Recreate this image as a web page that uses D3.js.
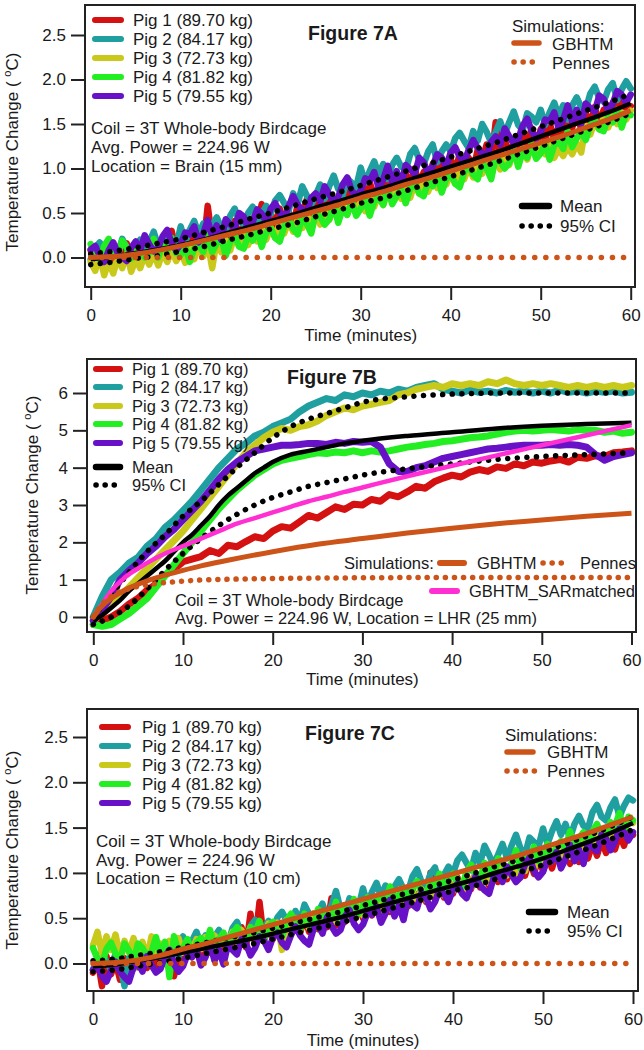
<!DOCTYPE html>
<html><head><meta charset="utf-8">
<script src="https://cdn.jsdelivr.net/npm/d3@7"></script>
<style>
body{margin:0;background:#fff}
svg{display:block}
text{font-family:"Liberation Sans",Arial,Helvetica,sans-serif;fill:#1a1a1a}
</style>
</head><body>
<svg id="chart" width="644" height="1050"></svg>
<script>
// ---------------- DATA ----------------
const pigNames = ["Pig 1 (89.70 kg)", "Pig 2 (84.17 kg)", "Pig 3 (72.73 kg)", "Pig 4 (81.82 kg)", "Pig 5 (79.55 kg)"];
const pigColors = ["#d41010", "#1f9f9f", "#c9c91c", "#22ee22", "#6812c8"];
const xTicks = [0, 10, 20, 30, 40, 50, 60];
const yTicksSmall = [0, 0.5, 1.0, 1.5, 2.0, 2.5];
const yTicksLHR = [0, 1, 2, 3, 4, 5, 6];

// Brain / Rectum pig traces: one value every 0.5 min from 0 to 60 min
const pigStepMin = 0.5;
const brainPig1 = [0.08,-0.06,0.12,-0.08,0.06,-0.10,0.12,0.00,0.16,-0.04,
0.13,-0.01,0.18,-0.01,0.13,-0.02,0.19,0.08,0.30,0.05,
0.22,0.09,0.28,0.09,0.23,0.09,0.58,0.20,0.37,0.18,
0.35,0.22,0.41,0.22,0.37,0.22,0.44,0.34,0.60,0.32,
0.49,0.37,0.55,0.37,0.51,0.37,0.59,0.49,0.65,0.47,
0.64,0.52,0.70,0.52,0.66,0.52,0.74,0.64,0.80,0.62,
0.79,0.67,0.85,0.67,0.81,0.67,0.89,0.79,0.95,0.77,
0.94,0.82,1.00,0.82,0.96,0.82,1.05,0.94,1.11,0.92,
1.10,0.98,1.16,0.98,1.12,0.98,1.21,1.10,1.27,1.08,
1.52,1.14,1.33,1.15,1.29,1.15,1.38,1.28,1.45,1.26,
1.44,1.32,1.51,1.33,1.47,1.33,1.56,1.46,1.63,1.44,
1.62,1.50,1.69,1.51,1.66,1.52,1.74,1.64,1.81,1.63,
1.70];
const brainPig2 = [-0.02,0.11,0.17,0.06,-0.02,0.15,0.03,0.21,0.11,-0.02,
0.09,0.20,0.04,0.17,0.29,0.13,0.05,0.23,0.18,0.12,
0.35,0.17,0.31,0.41,0.26,0.38,0.21,0.36,0.45,0.34,
0.30,0.47,0.55,0.41,0.37,0.50,0.57,0.38,0.49,0.58,
0.49,0.64,0.70,0.61,0.53,0.72,0.60,0.80,0.70,0.59,
0.70,0.82,0.66,0.80,0.92,0.77,0.70,0.89,0.84,0.79,
1.01,0.84,0.97,1.08,0.93,1.05,0.88,1.04,1.12,1.02,
0.98,1.16,1.23,1.10,1.05,1.19,1.27,1.07,1.19,1.27,
1.19,1.34,1.40,1.31,1.23,1.42,1.31,1.50,1.41,1.29,
1.41,1.53,1.38,1.52,1.64,1.49,1.43,1.62,1.58,1.52,
1.66,1.49,1.63,1.74,1.59,1.71,1.55,1.71,1.80,1.69,
1.66,1.84,1.92,1.79,1.75,1.89,1.96,1.77,1.89,1.98,
1.90];
const brainPig3 = [-0.05,-0.15,0.02,-0.20,-0.04,-0.18,0.00,-0.12,0.04,-0.16,
-0.02,-0.12,0.03,-0.08,0.05,-0.09,0.06,-0.05,0.08,-0.04,
0.07,-0.06,0.12,-0.02,0.13,0.01,0.16,-0.12,0.19,0.06,
0.20,0.08,0.25,0.13,0.27,0.14,0.30,0.18,0.33,0.20,
0.34,0.22,0.39,0.27,0.41,0.29,0.44,0.33,0.48,0.36,
0.49,0.37,0.54,0.42,0.56,0.44,0.59,0.48,0.63,0.51,
0.64,0.52,0.69,0.57,0.71,0.59,0.74,0.63,0.78,0.66,
0.79,0.67,0.84,0.72,0.86,0.74,0.90,0.78,0.94,0.82,
0.95,0.83,1.00,0.88,1.02,0.90,1.06,0.94,1.10,0.98,
1.11,0.99,1.16,1.04,1.18,1.06,1.22,1.10,1.27,1.12,
1.28,1.16,1.30,1.12,1.22,1.14,1.24,1.16,1.28,1.18,
1.48,1.38,1.53,1.44,1.57,1.46,1.60,1.50,1.63,1.55,
1.65];
const brainPig4 = [0.15,0.02,-0.02,0.13,0.21,0.08,0.02,0.19,0.12,-0.01,
0.14,0.09,0.00,0.05,0.21,0.00,0.15,0.07,0.22,0.05,
0.03,0.13,-0.05,0.10,0.15,0.06,0.25,0.06,0.16,0.23,
0.02,0.17,0.25,0.12,0.10,0.25,0.19,0.33,0.12,0.28,
0.33,0.22,0.18,0.35,0.43,0.32,0.26,0.45,0.38,0.27,
0.50,0.46,0.37,0.43,0.59,0.39,0.55,0.48,0.63,0.47,
0.55,0.66,0.47,0.63,0.68,0.59,0.78,0.60,0.69,0.77,
0.61,0.77,0.84,0.72,0.69,0.85,0.80,0.93,0.73,0.88,
0.94,0.83,0.79,0.96,1.04,0.93,0.88,1.06,1.00,0.88,
1.12,1.08,1.00,1.06,1.22,1.02,1.19,1.12,1.28,1.11,
1.17,1.28,1.10,1.26,1.31,1.22,1.42,1.24,1.34,1.41,
1.32,1.48,1.56,1.44,1.42,1.58,1.52,1.66,1.46,1.62,
1.60];
const brainPig5 = [0.09,0.13,0.02,-0.05,0.08,0.17,0.05,0.00,-0.04,0.11,
0.18,0.08,0.25,0.15,0.07,0.11,0.24,0.31,0.16,0.08,
0.15,0.28,0.26,0.35,0.17,0.27,0.42,0.23,0.36,0.20,
0.43,0.37,0.33,0.50,0.46,0.32,0.40,0.54,0.49,0.40,
0.55,0.61,0.50,0.45,0.58,0.69,0.59,0.54,0.50,0.67,
0.72,0.63,0.80,0.71,0.63,0.68,0.82,0.90,0.75,0.68,
0.75,0.89,0.86,0.96,0.78,0.88,1.03,0.85,0.97,0.82,
1.04,0.99,0.94,1.12,1.07,0.94,1.03,1.16,1.12,1.02,
1.18,1.24,1.13,1.08,1.21,1.32,1.23,1.17,1.14,1.30,
1.36,1.27,1.45,1.36,1.28,1.33,1.48,1.56,1.42,1.34,
1.41,1.55,1.53,1.63,1.45,1.55,1.71,1.53,1.66,1.50,
1.73,1.68,1.64,1.82,1.78,1.65,1.73,1.87,1.83,1.74,
1.83];

const rectumPig1 = [-0.10,0.05,-0.25,0.08,-0.12,0.02,-0.18,0.06,-0.08,0.10,
-0.04,0.12,-0.05,0.14,-0.02,0.16,0.00,0.18,-0.14,0.05,
0.06,0.22,0.07,0.25,0.10,0.26,0.12,0.28,0.13,0.30,
0.16,0.34,0.20,0.40,0.18,0.55,0.22,0.68,0.25,0.40,
0.27,0.45,0.30,0.48,0.32,0.50,0.33,0.52,0.35,0.55,
0.38,0.56,0.40,0.72,0.42,0.60,0.46,0.63,0.48,0.65,
0.50,0.68,0.53,0.70,0.55,0.72,0.57,0.75,0.58,0.78,
0.63,0.82,0.66,0.85,0.68,1.00,0.70,0.88,0.73,0.92,
0.77,0.95,0.80,0.98,0.82,1.00,0.84,1.02,0.86,1.04,
0.90,1.08,0.93,1.10,0.95,1.12,0.97,1.15,0.99,1.17,
1.02,1.20,1.05,1.22,1.08,1.25,1.10,1.27,1.12,1.30,
1.16,1.33,1.19,1.36,1.22,1.39,1.26,1.43,1.30,1.46,
1.42];
const rectumPig2 = [-0.07,0.07,0.12,0.02,-0.07,0.11,-0.02,-0.25,0.06,-0.06,
0.05,0.16,0.00,0.13,0.25,0.09,0.02,0.20,0.14,0.08,
0.30,0.12,0.25,0.35,0.20,0.31,0.14,0.29,0.37,0.26,
0.22,0.39,0.46,0.32,0.27,0.41,0.48,0.28,0.39,0.47,
0.37,0.51,0.57,0.48,0.40,0.58,0.46,0.65,0.55,0.44,
0.55,0.66,0.51,0.64,0.80,0.60,0.54,0.72,0.67,0.62,
0.83,0.65,0.79,0.89,0.74,0.86,0.69,0.85,0.93,0.82,
0.79,0.96,1.04,0.90,0.85,0.99,1.06,0.87,0.98,1.07,
0.99,1.14,1.20,1.11,1.03,1.22,1.10,1.30,1.20,1.09,
1.20,1.32,1.16,1.30,1.42,1.27,1.20,1.39,1.34,1.29,
1.49,1.32,1.46,1.57,1.42,1.54,1.38,1.54,1.63,1.52,
1.49,1.67,1.75,1.62,1.58,1.72,1.81,1.62,1.74,1.83,
1.80];
const rectumPig3 = [0.20,0.35,0.10,0.30,0.15,0.32,0.08,0.25,0.12,0.28,
0.10,0.24,0.05,0.30,0.08,0.22,0.10,0.25,0.12,0.28,
0.12,0.25,0.14,0.27,0.16,0.29,0.18,0.31,0.20,0.33,
0.22,0.35,0.24,0.37,0.26,0.40,0.29,0.42,0.30,0.44,
0.32,0.45,0.15,0.48,0.35,0.50,0.37,0.52,0.39,0.55,
0.42,0.56,0.44,0.58,0.46,0.60,0.48,0.62,0.50,0.64,
0.53,0.67,0.55,0.69,0.57,0.72,0.60,0.74,0.62,0.76,
0.66,0.80,0.68,0.82,0.70,0.85,0.73,0.87,0.75,0.90,
0.80,0.94,0.82,0.96,0.84,0.99,0.87,1.01,0.89,1.04,
0.95,1.09,0.97,1.11,0.99,1.14,1.02,1.16,1.04,1.19,
1.10,1.24,1.13,1.27,1.15,1.30,1.18,1.33,1.21,1.36,
1.28,1.42,1.31,1.45,1.35,1.49,1.39,1.53,1.43,1.57,
1.55];
const rectumPig4 = [0.17,0.05,0.00,0.16,0.23,0.11,0.04,0.22,0.14,0.02,
0.22,0.17,0.08,0.13,0.29,0.08,0.24,-0.15,0.30,0.13,
0.17,0.27,0.08,0.23,0.28,0.18,0.37,0.18,0.27,0.34,
0.18,0.33,0.40,0.27,0.24,0.40,0.34,0.47,0.26,0.41,
0.46,0.34,0.30,0.47,0.55,0.43,0.37,0.55,0.48,0.37,
0.60,0.55,0.47,0.52,0.68,0.47,0.64,0.56,0.71,0.55,
0.63,0.73,0.55,0.70,0.75,0.66,0.85,0.67,0.76,0.83,
0.68,0.83,0.91,0.78,0.75,0.91,0.85,0.99,0.78,0.94,
0.99,0.88,0.84,1.01,1.09,0.98,0.92,1.11,1.04,0.93,
1.16,1.12,1.03,1.09,1.25,1.05,1.21,1.14,1.29,1.13,
1.21,1.32,1.14,1.30,1.35,1.26,1.46,1.28,1.38,1.45,
1.30,1.46,1.54,1.42,1.40,1.56,1.52,1.66,1.46,1.62,
1.58];
const rectumPig5 = [-0.07,-0.02,-0.14,-0.20,-0.08,0.02,-0.09,-0.15,-0.20,-0.04,
0.01,-0.09,0.08,-0.02,-0.10,-0.06,0.08,0.15,-0.01,-0.09,
-0.03,0.10,0.07,0.16,-0.02,0.07,0.22,0.03,0.15,-0.01,
0.21,0.15,0.10,0.27,0.22,0.09,0.17,0.30,0.25,0.15,
0.29,0.34,0.23,0.18,0.31,0.41,0.31,0.25,0.21,0.38,
0.43,0.33,0.51,0.41,0.33,0.37,0.52,0.59,0.44,0.37,
0.43,0.56,0.54,0.63,0.45,0.55,0.70,0.52,0.64,0.48,
0.71,0.65,0.61,0.78,0.73,0.60,0.68,0.82,0.77,0.68,
0.82,0.88,0.77,0.72,0.85,0.96,0.86,0.81,0.77,0.94,
0.99,0.90,1.07,0.98,0.90,0.95,1.09,1.17,1.02,0.95,
1.01,1.15,1.13,1.23,1.05,1.15,1.31,1.13,1.26,1.10,
1.33,1.28,1.24,1.42,1.38,1.25,1.35,1.49,1.45,1.36,
1.45];

// Brain / Rectum summary curves: one value every 2.5 min
const summaryStepMin = 2.5;
const brainMean = [-0.02,0.01,0.05,0.09,0.14,0.20,0.27,0.34,0.41,0.48,0.56,0.63,0.71,0.78,0.86,0.94,1.02,1.10,1.18,1.27,1.36,1.45,1.54,1.63,1.73];
const brainCIUpper = [0.04,0.07,0.11,0.16,0.21,0.28,0.35,0.43,0.50,0.58,0.66,0.73,0.81,0.89,0.97,1.05,1.13,1.21,1.29,1.38,1.47,1.56,1.65,1.74,1.84];
const brainCILower = [-0.08,-0.05,-0.01,0.02,0.07,0.12,0.19,0.25,0.32,0.38,0.46,0.53,0.61,0.67,0.75,0.83,0.91,0.99,1.07,1.16,1.25,1.34,1.43,1.52,1.62];
const brainGBHTM = [0,0.01,0.04,0.08,0.13,0.19,0.25,0.31,0.38,0.45,0.52,0.59,0.67,0.74,0.82,0.89,0.97,1.05,1.13,1.21,1.29,1.37,1.46,1.55,1.65];
const rectumMean = [-0.03,-0.01,0.03,0.07,0.12,0.17,0.22,0.27,0.33,0.39,0.45,0.51,0.58,0.65,0.72,0.79,0.86,0.93,1.01,1.08,1.16,1.25,1.34,1.44,1.55];
const rectumCIUpper = [0.03,0.05,0.09,0.13,0.18,0.23,0.28,0.33,0.39,0.45,0.51,0.57,0.64,0.71,0.78,0.85,0.92,1.00,1.08,1.15,1.23,1.32,1.41,1.51,1.62];
const rectumCILower = [-0.09,-0.07,-0.03,0.01,0.06,0.11,0.16,0.21,0.27,0.33,0.39,0.45,0.52,0.59,0.66,0.73,0.80,0.86,0.94,1.01,1.09,1.18,1.27,1.37,1.48];
const rectumGBHTM = [0,0.01,0.04,0.09,0.16,0.22,0.29,0.36,0.43,0.50,0.57,0.64,0.71,0.78,0.85,0.92,0.99,1.06,1.13,1.20,1.28,1.36,1.44,1.53,1.62];
const pennesFlatTimes = [0, 60];
const pennesFlat = [0, 0];

// LHR (Figure 7B): pig traces one value per minute
const lhrStepMin = 1;
const lhrPig1 = [-0.2,-0.1,0.0,0.15,0.35,0.5,0.72,0.88,1.12,1.28,
1.48,1.55,1.62,1.78,1.70,1.92,1.88,2.02,2.15,2.10,
2.30,2.42,2.38,2.55,2.72,2.65,2.80,2.95,2.88,3.02,
3.00,3.15,3.10,3.28,3.22,3.35,3.50,3.45,3.62,3.72,
3.80,3.75,3.88,3.95,3.90,4.02,3.98,4.10,4.05,4.15,
4.12,4.18,4.22,4.15,4.28,4.25,4.32,4.30,4.40,4.42,
4.45];
const lhrPig2 = [0.0,0.55,1.0,1.2,1.45,1.6,1.9,2.1,2.4,2.6,
2.85,3.1,3.4,3.7,4.0,4.25,4.5,4.65,4.85,4.95,
5.1,5.2,5.3,5.5,5.65,5.75,5.85,5.8,5.95,5.9,
6.0,5.95,6.05,6.0,6.1,6.05,6.15,6.2,6.25,6.1,
6.05,6.0,6.08,6.02,6.05,6.0,6.07,6.02,6.05,6.0,
6.05,6.0,6.08,6.02,6.05,6.0,6.05,6.02,6.05,6.0,
6.02];
const lhrPig3 = [-0.1,0.1,0.3,0.55,0.8,1.05,1.3,1.55,1.8,2.05,
2.3,2.6,2.9,3.2,3.5,3.8,4.1,4.4,4.6,4.8,
4.95,5.05,5.0,5.1,5.15,5.25,5.4,5.5,5.6,5.55,
5.65,5.7,5.75,5.8,5.95,6.0,6.1,6.15,6.2,6.15,
6.25,6.2,6.25,6.2,6.3,6.25,6.35,6.25,6.2,6.25,
6.2,6.25,6.2,6.15,6.2,6.15,6.2,6.15,6.2,6.15,
6.2];
const lhrPig4 = [-0.2,-0.25,-0.2,-0.05,0.1,0.3,0.5,0.8,1.1,1.4,
1.7,2.0,2.3,2.6,2.9,3.15,3.4,3.6,3.8,3.95,
4.1,4.2,4.25,4.3,4.35,4.4,4.38,4.42,4.4,4.45,
4.4,4.45,4.42,4.45,4.5,4.55,4.58,4.62,4.65,4.7,
4.72,4.76,4.8,4.82,4.85,4.9,4.95,4.98,5.0,4.98,
5.0,5.02,5.0,4.98,5.02,5.0,5.0,4.95,4.98,4.92,
4.95];
const lhrPig5 = [-0.1,0.2,0.55,1.0,1.25,1.45,1.7,1.9,2.15,2.35,
2.6,2.85,3.1,3.4,3.7,3.95,4.15,4.3,4.45,4.5,
4.55,4.6,4.6,4.62,4.65,4.65,4.62,4.68,4.65,4.7,
4.68,4.7,4.55,4.1,3.9,3.9,4.0,4.05,4.15,4.25,
4.3,4.35,4.4,4.45,4.5,4.52,4.55,4.58,4.6,4.6,
4.6,4.62,4.6,4.62,4.6,4.55,4.35,4.2,4.3,4.35,
4.4];
const lhrMeanTimes = [0,1,2,3,4,5,6,7,8,9,10,11,12,13,14,15,16,17,18,19,20,22,24,26,28,30,35,40,45,50,55,60];
const lhrMean = [-0.1,0.05,0.25,0.45,0.7,0.9,1.1,1.3,1.5,1.75,2.0,2.2,2.45,2.7,3.0,3.25,3.45,3.65,3.85,4.0,4.15,4.35,4.45,4.55,4.65,4.72,4.85,4.95,5.05,5.12,5.17,5.2];
const lhrCITimes = [0,2,4,6,8,10,12,14,16,18,20,22,24,26,28,30,35,40,45,50,55,60];
const lhrCIUpper = [0.0,0.6,1.2,1.75,2.2,2.7,3.1,3.55,4.0,4.4,4.8,5.1,5.3,5.45,5.6,5.75,5.9,5.97,6.0,6.0,6.0,6.0];
const lhrCILower = [-0.2,0.0,0.3,0.75,1.25,1.7,2.1,2.45,2.75,3.0,3.2,3.35,3.5,3.6,3.7,3.8,3.97,4.1,4.22,4.3,4.35,4.4];
const lhrGBHTMTimes = [0,1,2,3,4,5,6,8,10,12,15,20,25,30,35,40,45,50,55,60];
const lhrGBHTM = [0,0.3,0.5,0.65,0.78,0.88,0.97,1.12,1.25,1.37,1.52,1.75,1.95,2.1,2.25,2.38,2.5,2.6,2.7,2.78];
const lhrPennesTimes = [0,1,2,3,4,5,6,8,10,12,15,20,30,40,50,60];
const lhrPennes = [0,0.35,0.55,0.68,0.76,0.82,0.86,0.92,0.96,0.99,1.01,1.03,1.05,1.06,1.06,1.06];
const lhrSARTimes = [0,1,2,3,4,5,6,8,10,12,14,16,18,20,22,24,26,28,30,35,40,45,50,55,60];
const lhrSARmatched = [0,0.35,0.7,0.95,1.15,1.3,1.45,1.7,1.9,2.1,2.3,2.5,2.65,2.8,2.95,3.1,3.22,3.35,3.47,3.77,4.05,4.33,4.6,4.87,5.14];

// ---------------- STYLE ----------------
const FONT = "'Liberation Sans', Arial, Helvetica, sans-serif";
const ORANGE = "#cc5418";
const PINK = "#ff2fd2";
const INK = "#1a1a1a";

const svg = d3.select("#chart");
svg.append("rect").attr("width", 644).attr("height", 1050).attr("fill", "#fff");

function stepSeries(values, step) { return values.map((v, i) => [i * step, v]); }
function pairSeries(times, values) { return times.map((t, i) => [t, values[i]]); }

function drawPanel(cfg) {
  const x = d3.scaleLinear().domain([0, 60]).range([cfg.x0, cfg.x60]);
  const y = d3.scaleLinear().domain([0, cfg.yRefVal]).range([cfg.y0, cfg.yRefPx]);
  const clipId = "clip" + cfg.id;
  svg.append("clipPath").attr("id", clipId).append("rect")
    .attr("x", cfg.left + 1).attr("y", cfg.top + 1)
    .attr("width", cfg.right - cfg.left - 2).attr("height", cfg.bottom - cfg.top - 2);
  const g = svg.append("g");
  const plot = g.append("g").attr("clip-path", `url(#${clipId})`);
  const line = d3.line().x(d => x(d[0])).y(d => y(d[1]));
  const smooth = d3.line().x(d => x(d[0])).y(d => y(d[1])).curve(d3.curveMonotoneX);

  // pig traces
  cfg.pigs.forEach((series, i) => {
    plot.append("path").datum(series).attr("d", line)
      .attr("fill", "none").attr("stroke", pigColors[i])
      .attr("stroke-width", cfg.pigWidth).attr("stroke-linejoin", "round").attr("stroke-linecap", "round");
  });
  // mean & CI
  plot.append("path").datum(cfg.mean).attr("d", smooth)
    .attr("fill", "none").attr("stroke", "#000").attr("stroke-width", 4.5);
  [cfg.ciU, cfg.ciL].forEach(s => {
    plot.append("path").datum(s).attr("d", smooth)
      .attr("fill", "none").attr("stroke", "#000").attr("stroke-width", 5.5)
      .attr("stroke-linecap", "round").attr("stroke-dasharray", "0.1 9.5");
  });
  if (cfg.sar) {
    plot.append("path").datum(cfg.sar).attr("d", smooth)
      .attr("fill", "none").attr("stroke", PINK).attr("stroke-width", 4.5);
  }
  plot.append("path").datum(cfg.gbhtm).attr("d", smooth)
    .attr("fill", "none").attr("stroke", ORANGE).attr("stroke-width", 5);
  plot.append("path").datum(cfg.pennes).attr("d", smooth)
    .attr("fill", "none").attr("stroke", ORANGE).attr("stroke-width", 5.5)
    .attr("stroke-linecap", "round").attr("stroke-dasharray", cfg.pennesDash);

  // frame
  g.append("rect").attr("x", cfg.left).attr("y", cfg.top)
    .attr("width", cfg.right - cfg.left).attr("height", cfg.bottom - cfg.top)
    .attr("fill", "none").attr("stroke", "#222").attr("stroke-width", 2);

  // axes
  const ya = g.append("g").attr("transform", `translate(${cfg.left - 1},0)`)
    .call(d3.axisLeft(y).tickValues(cfg.yTicks).tickSize(13).tickPadding(5).tickFormat(cfg.yFmt));
  const xa = g.append("g").attr("transform", `translate(0,${cfg.bottom + 1})`)
    .call(d3.axisBottom(x).tickValues(xTicks).tickSize(12).tickPadding(9).tickFormat(d3.format("d")));
  [ya, xa].forEach(a => {
    a.select(".domain").remove();
    a.selectAll(".tick line").attr("stroke", "#222").attr("stroke-width", 2);
    a.selectAll(".tick text").attr("font-family", FONT).attr("font-size", 17).attr("fill", INK);
  });

  // axis titles
  const yt = g.append("text").attr("transform", `translate(${cfg.titleX + 6},${cfg.titleY}) rotate(-90)`)
    .attr("text-anchor", "middle").attr("font-family", FONT).attr("font-size", 17).attr("fill", INK);
  yt.append("tspan").text("Temperature Change ( ");
  yt.append("tspan").attr("font-size", 11).attr("dy", -7).text("o");
  yt.append("tspan").attr("dy", 7).text("C)");
  g.append("text").attr("x", (cfg.x0 + cfg.x60) / 2).attr("y", cfg.timeY + 8)
    .attr("text-anchor", "middle").attr("font-family", FONT).attr("font-size", 17).attr("fill", INK)
    .text("Time (minutes)");

  // figure label
  g.append("text").attr("x", cfg.figX).attr("y", cfg.figY + 7)
    .attr("font-family", FONT).attr("font-size", 19.5).attr("font-weight", "bold").attr("fill", INK)
    .text(cfg.figLabel);
  return g;
}

function label(g, x, y, txt, size) {
  g.append("text").attr("x", x).attr("y", y).attr("dy", "0.35em")
    .attr("font-family", FONT).attr("font-size", size).attr("fill", INK).text(txt);
}
function keyLine(g, x1, x2, yy, color, width, dotted) {
  const p = g.append("line").attr("x1", x1).attr("x2", x2).attr("y1", yy).attr("y2", yy)
    .attr("stroke", color).attr("stroke-width", width).attr("stroke-linecap", "round");
  if (dotted) p.attr("stroke-dasharray", "0.1 9");
}

// ---------------- PANEL A ----------------
const gA = drawPanel({
  id: "A", left: 85, right: 635, top: 5, bottom: 287,
  x0: 90.7, x60: 630.7, y0: 257.5, yRefVal: 2.5, yRefPx: 35,
  yTicks: yTicksSmall, yFmt: d3.format(".1f"), titleX: 12, titleY: 152, timeY: 333,
  figLabel: "Figure 7A", figX: 308, figY: 33, pigWidth: 6.5,
  pigs: [brainPig1, brainPig2, brainPig3, brainPig4, brainPig5].map(v => stepSeries(v, pigStepMin)),
  mean: stepSeries(brainMean, summaryStepMin), ciU: stepSeries(brainCIUpper, summaryStepMin), ciL: stepSeries(brainCILower, summaryStepMin),
  gbhtm: stepSeries(brainGBHTM, summaryStepMin), pennes: pairSeries(pennesFlatTimes, pennesFlat), pennesDash: "0.1 11"
});
[20, 39, 58, 77, 96].forEach((yy, i) => { keyLine(gA, 95, 121, yy, pigColors[i], 6); label(gA, 133, yy, pigNames[i], 17); });
label(gA, 91, 128, "Coil = 3T Whole-body Birdcage", 17);
label(gA, 91, 147, "Avg. Power = 224.96 W", 17);
label(gA, 91, 166, "Location = Brain (15 mm)", 17);
label(gA, 512, 26, "Simulations:", 17);
keyLine(gA, 514, 539, 43, ORANGE, 5.5); label(gA, 552, 44, "GBHTM", 17);
keyLine(gA, 514, 541, 62, ORANGE, 5.5, true); label(gA, 552, 63, "Pennes", 17);
keyLine(gA, 522, 549, 206, "#000", 6.5); label(gA, 560, 206, "Mean", 17);
keyLine(gA, 522, 550, 226, "#000", 5.5, true); label(gA, 560, 226, "95% CI", 17);

// ---------------- PANEL B ----------------
const gB = drawPanel({
  id: "B", left: 87, right: 636, top: 359, bottom: 632,
  x0: 93.3, x60: 631.5, y0: 617, yRefVal: 6, yRefPx: 393,
  yTicks: yTicksLHR, yFmt: d3.format("d"), titleX: 32, titleY: 495, timeY: 677,
  figLabel: "Figure 7B", figX: 287, figY: 377, pigWidth: 7,
  pigs: [lhrPig1, lhrPig2, lhrPig3, lhrPig4, lhrPig5].map(v => stepSeries(v, lhrStepMin)),
  mean: pairSeries(lhrMeanTimes, lhrMean), ciU: pairSeries(lhrCITimes, lhrCIUpper), ciL: pairSeries(lhrCITimes, lhrCILower),
  gbhtm: pairSeries(lhrGBHTMTimes, lhrGBHTM), pennes: pairSeries(lhrPennesTimes, lhrPennes), pennesDash: "0.1 9",
  sar: pairSeries(lhrSARTimes, lhrSARmatched)
});
[369, 387, 406, 424, 443].forEach((yy, i) => { keyLine(gB, 96, 120, yy, pigColors[i], 6); label(gB, 132, yy, pigNames[i], 16.5); });
keyLine(gB, 96, 120, 467, "#000", 6.5); label(gB, 132, 467, "Mean", 16.5);
keyLine(gB, 96, 122, 485, "#000", 5.5, true); label(gB, 132, 485, "95% CI", 16.5);
label(gB, 344, 563, "Simulations:", 16.5);
keyLine(gB, 440, 464, 563, ORANGE, 6); label(gB, 477, 563, "GBHTM", 16.5);
keyLine(gB, 543, 568, 563, ORANGE, 5.5, true); label(gB, 580, 563, "Pennes", 16.5);
keyLine(gB, 432, 457, 591, PINK, 6); label(gB, 469, 591, "GBHTM_SARmatched", 16.5);
label(gB, 175, 600, "Coil = 3T Whole-body Birdcage", 16.5);
label(gB, 175, 618, "Avg. Power = 224.96 W, Location = LHR (25 mm)", 16.5);

// ---------------- PANEL C ----------------
const gC = drawPanel({
  id: "C", left: 87, right: 638, top: 709, bottom: 991,
  x0: 93, x60: 633, y0: 963.5, yRefVal: 2.5, yRefPx: 737,
  yTicks: yTicksSmall, yFmt: d3.format(".1f"), titleX: 12, titleY: 850, timeY: 1038,
  figLabel: "Figure 7C", figX: 305, figY: 733, pigWidth: 6.5,
  pigs: [rectumPig1, rectumPig2, rectumPig3, rectumPig4, rectumPig5].map(v => stepSeries(v, pigStepMin)),
  mean: stepSeries(rectumMean, summaryStepMin), ciU: stepSeries(rectumCIUpper, summaryStepMin), ciL: stepSeries(rectumCILower, summaryStepMin),
  gbhtm: stepSeries(rectumGBHTM, summaryStepMin), pennes: pairSeries(pennesFlatTimes, pennesFlat), pennesDash: "0.1 11"
});
[727, 746, 765, 784, 803].forEach((yy, i) => { keyLine(gC, 102, 128, yy, pigColors[i], 6); label(gC, 142, yy, pigNames[i], 17); });
label(gC, 96, 841, "Coil = 3T Whole-body Birdcage", 17);
label(gC, 96, 860, "Avg. Power = 224.96 W", 17);
label(gC, 96, 878, "Location = Rectum (10 cm)", 17);
label(gC, 505, 735, "Simulations:", 17);
keyLine(gC, 507, 533, 752, ORANGE, 5.5); label(gC, 547, 752, "GBHTM", 17);
keyLine(gC, 507, 535, 771, ORANGE, 5.5, true); label(gC, 547, 771, "Pennes", 17);
keyLine(gC, 529, 555, 912, "#000", 6.5); label(gC, 567, 912, "Mean", 17);
keyLine(gC, 529, 556, 931, "#000", 5.5, true); label(gC, 567, 931, "95% CI", 17);
</script>
</body></html>
